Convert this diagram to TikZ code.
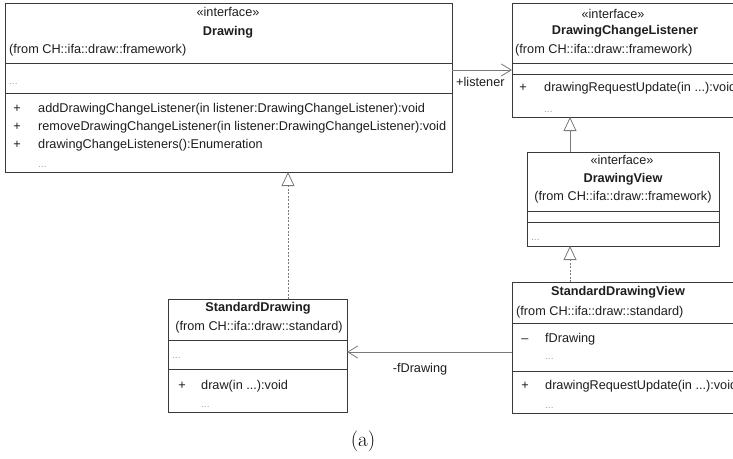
\documentclass[tikz,border=0pt]{standalone}
\usepackage{fontspec}
\newfontfamily\umlfont{Liberation Sans}
\usetikzlibrary{arrows.meta}
\definecolor{boxline}{HTML}{3A3A3A}
\definecolor{linkline}{HTML}{7A7A7A}
\definecolor{umltext}{HTML}{1E1E1E}
\definecolor{elide}{HTML}{A0A0A0}
\begin{document}
\begin{tikzpicture}[x=1pt,y=-1pt,
  umlbox/.style={draw=boxline, line width=0.8pt, fill=white, rectangle, inner sep=0pt, anchor=north west},
  sepline/.style={draw=boxline, line width=0.8pt},
  txt/.style={font=\umlfont\fontsize{12.7}{15}\selectfont, text=umltext, inner sep=0pt, text height=9.3pt, text depth=2.5pt},
  ctxt/.style={txt, anchor=center},
  ltxt/.style={txt, anchor=west},
  bold/.style={txt, anchor=center, font=\umlfont\bfseries\fontsize{12.7}{15}\selectfont},
  dots/.style={txt, anchor=west, text=elide, font=\umlfont\fontsize{10}{12}\selectfont},
  link/.style={draw=linkline, line width=0.8pt},
  realize/.style={link, dash pattern=on 2pt off 1.5pt},
  gen/.style={-{Triangle[open, length=14pt, width=13pt, line width=0.8pt]}},
  assoc/.style={-{Straight Barb[length=10pt, width=12pt, line width=0.8pt]}},
]
\useasboundingbox (0,0) rectangle (733,458);
\clip (0,0) rectangle (733,458);
\fill[white] (0,0) rectangle (733,458);

% ---------- Drawing ----------
\node[umlbox, minimum width=447pt, minimum height=169pt] (drawing) at (5,3) {};
\draw[sepline] (5,63) -- (452,63);
\draw[sepline] (5,93) -- (452,93);
\node[ctxt] (drawingStereo) at (228,13) {«interface»};
\node[bold] (drawingName) at (228,32) {Drawing};
\node[ltxt] (drawingFrom) at (9,50) {(from CH::ifa::draw::framework)};
\node[dots] (drawingAttr) at (9,81) {...};
\node[ctxt] (drawingVis1) at (17,109) {+};
\node[ltxt] (drawingOp1) at (38,109) {addDrawingChangeListener(in listener:DrawingChangeListener):void};
\node[ctxt] (drawingVis2) at (17,127) {+};
\node[ltxt] (drawingOp2) at (38,127) {removeDrawingChangeListener(in listener:DrawingChangeListener):void};
\node[ctxt] (drawingVis3) at (17,145) {+};
\node[ltxt] (drawingOp3) at (38,145) {drawingChangeListeners():Enumeration};
\node[dots] (drawingMore) at (38,164) {...};

% ---------- DrawingChangeListener ----------
\node[umlbox, minimum width=250pt, minimum height=114pt] (dcl) at (512,3) {};
\draw[sepline] (512,63) -- (762,63);
\draw[sepline] (512,74) -- (762,74);
\node[ctxt] (dclStereo) at (613,15) {«interface»};
\node[bold] (dclName) at (625,31) {DrawingChangeListener};
\node[ltxt] (dclFrom) at (515,50) {(from CH::ifa::draw::framework)};
\node[ctxt] (dclVis1) at (523,88) {+};
\node[ltxt] (dclOp1) at (544,88) {drawingRequestUpdate(in ...):void};
\node[dots] (dclMore) at (544,109) {...};

% ---------- DrawingView ----------
\node[umlbox, minimum width=192pt, minimum height=94pt] (dv) at (527,152) {};
\draw[sepline] (527,211) -- (719,211);
\draw[sepline] (527,222) -- (719,222);
\node[ctxt] (dvStereo) at (622,161) {«interface»};
\node[bold] (dvName) at (623,179) {DrawingView};
\node[ctxt] (dvFrom) at (623,197) {(from CH::ifa::draw::framework)};
\node[dots] (dvMore) at (531,237) {...};

% ---------- StandardDrawing ----------
\node[umlbox, minimum width=179pt, minimum height=113pt] (sd) at (168,299) {};
\draw[sepline] (168,340) -- (347,340);
\draw[sepline] (168,369) -- (347,369);
\node[bold] (sdName) at (258,308) {StandardDrawing};
\node[ctxt] (sdFrom) at (259,327) {(from CH::ifa::draw::standard)};
\node[dots] (sdAttr) at (172,355) {...};
\node[ctxt] (sdVis1) at (182,386) {+};
\node[ltxt] (sdOp1) at (201,386) {draw(in ...):void};
\node[dots] (sdMore) at (201,404) {...};

% ---------- StandardDrawingView ----------
\node[umlbox, minimum width=250pt, minimum height=131pt] (sdv) at (512,282) {};
\draw[sepline] (512,323) -- (762,323);
\draw[sepline] (512,371) -- (762,371);
\node[bold] (sdvName) at (618,292) {StandardDrawingView};
\node[ltxt] (sdvFrom) at (516,312) {(from CH::ifa::draw::standard)};
\node[ctxt] (sdvVis1) at (525,339) {\textendash};
\node[ltxt] (sdvAttr1) at (545,339) {fDrawing};
\node[dots] (sdvAttrMore) at (545,356) {...};
\node[ctxt] (sdvVis2) at (525,386) {+};
\node[ltxt] (sdvOp1) at (545,386) {drawingRequestUpdate(in ...):void};
\node[dots] (sdvMore) at (545,405) {...};

% ---------- attachment points on the box borders ----------
\coordinate (drawingBase) at (288,172);
\coordinate (sdTop) at (288,299);
\coordinate (dclBase) at (570,117);
\coordinate (dvTop) at (570,152);
\coordinate (dvBase) at (570,246);
\coordinate (sdvTop) at (570,282);
\coordinate (drawingRight) at (452,70);
\coordinate (dclLeft) at (512,70);
\coordinate (sdvLeft) at (512,352);
\coordinate (sdRight) at (347,352);

% ---------- relationships ----------
\draw[realize, gen] (sdTop) -- (drawingBase);
\draw[link, gen] (dvTop) -- (dclBase);
\draw[realize, gen] (sdvTop) -- (dvBase);
\draw[link, assoc] (drawingRight) -- (dclLeft);
\node[ltxt] (listenerRole) at (456,83) {+listener};
\draw[link, assoc] (sdvLeft) -- (sdRight);
\node[ctxt] (fDrawingRole) at (420,369) {-fDrawing};

% ---------- caption ----------
\node[inner sep=0pt, font=\fontsize{21}{25}\selectfont] (caption) at (363,441) {(a)};
\end{tikzpicture}
\end{document}
